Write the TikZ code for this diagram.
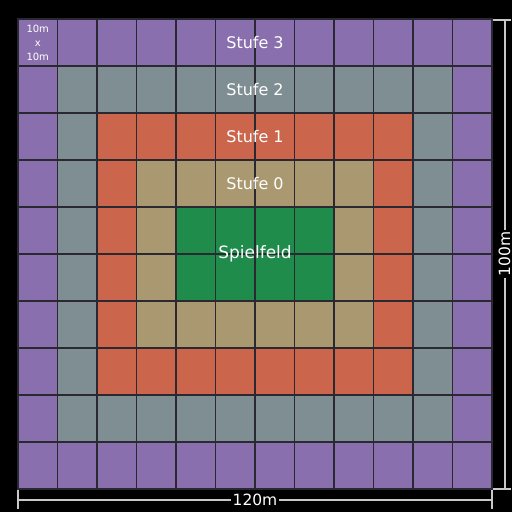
\documentclass[tikz,border=0pt]{standalone}
\usepackage{fontspec}
\setmainfont{DejaVu Sans}
\usepackage{tikz}
\usetikzlibrary{positioning}

\definecolor{stufeiii}{HTML}{8A6FAE}
\definecolor{stufeii}{HTML}{7F8E92}
\definecolor{stufei}{HTML}{CB664C}
\definecolor{stufeo}{HTML}{A99870}
\definecolor{spielfeld}{HTML}{1F8C4C}
\definecolor{gitter}{HTML}{2A2830}
\definecolor{masslinie}{HTML}{C8C8C8}

\tikzset{
  zelle/.style={draw=gitter, line width=1.2pt},
  beschriftung/.style={text=white, font=\fontsize{16}{18}\selectfont, inner sep=1pt},
  klein/.style={text=white, font=\fontsize{10}{14}\selectfont, align=center, inner sep=0pt},
  mass/.style={draw=masslinie, line width=1.3pt},
  masstext/.style={text=white, fill=black, font=\fontsize{15.5}{18}\selectfont, inner sep=1.5pt}
}

\begin{document}
\begin{tikzpicture}[x=1pt, y=-1pt]
    \fill[black] (0,0) rectangle (512,512);
    \useasboundingbox (0,0) rectangle (512,512);

    % 12 x 10 Felder zu je 10m x 10m
    \foreach \i in {0,...,11} {
      \foreach \j in {0,...,9} {
        \pgfmathtruncatemacro{\d}{min(min(\i,11-\i),min(\j,9-\j))}
        \ifcase\d \def\farbe{stufeiii}\or \def\farbe{stufeii}\or \def\farbe{stufei}\or \def\farbe{stufeo}\else \def\farbe{spielfeld}\fi
        \filldraw[zelle, fill=\farbe] (18+39.5*\i,19+47*\j) rectangle ++(39.5,47);
      }
    }

    \node[klein] (feld) at (37.75,43) {10m\\x\\10m};
    \node[beschriftung] (s3) at (255,42.5) {Stufe 3};
    \node[beschriftung] (s2) at (255,89.5) {Stufe 2};
    \node[beschriftung] (s1) at (255,136.5) {Stufe 1};
    \node[beschriftung] (s0) at (255,183.5) {Stufe 0};
    \node[beschriftung, font=\fontsize{17}{19}\selectfont] (sf) at (255,254) {Spielfeld};

    % Masslinien
    \coordinate (bl) at (18,500);
    \coordinate (br) at (492,500);
    \coordinate (hl) at (505,20);
    \coordinate (hr) at (505,489);
    \draw[mass] (bl) -- (br);
    \draw[mass] (18,490) -- (18,509);
    \draw[mass] (492,490) -- (492,509);
    \draw[mass] (hl) -- (hr);
    \draw[mass] (493,20) -- (511,20);
    \draw[mass] (493,489) -- (511,489);
    \node[masstext] (breite) at (255,500) {120m};
    \node[masstext, rotate=90] (hoehe) at (504.5,254) {100m};
  \end{tikzpicture}
\end{document}
